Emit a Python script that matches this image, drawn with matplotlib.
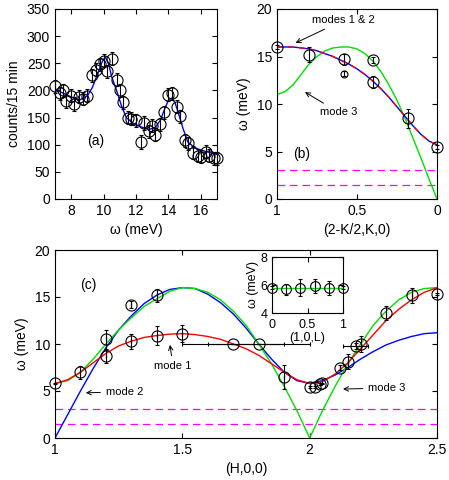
import matplotlib
matplotlib.use("Agg")
import matplotlib.pyplot as plt

plt.rcParams["font.family"] = ["Liberation Sans", "DejaVu Sans"]
plt.rcParams["font.size"] = 10

# panel (a): energy scan
a_w = [7.0, 7.3, 7.5, 7.7, 8.0, 8.2, 8.5, 8.7, 9.0, 9.3, 9.5, 9.8, 10.0, 10.2, 10.5,
       10.8, 11.0, 11.2, 11.5, 11.7, 12.0, 12.3, 12.5, 12.8, 13.0, 13.2, 13.5, 13.7,
       14.0, 14.2, 14.5, 14.7, 15.0, 15.2, 15.5, 15.8, 16.0, 16.3, 16.5, 16.8, 17.0]
a_counts = [208, 195, 200, 180, 190, 175, 188, 185, 190, 228, 238, 248, 255, 235, 258,
            220, 200, 178, 150, 148, 145, 105, 140, 125, 135, 118, 138, 160,
            192, 195, 170, 152, 108, 103, 85, 80, 78, 87, 80, 75, 75]
a_err = [12] * len(a_w)
a_fit_w = [7.0, 7.5, 8.0, 8.5, 9.0, 9.3, 9.6, 9.9, 10.1, 10.3, 10.5, 10.8, 11.1, 11.4,
           11.8, 12.3, 12.8, 13.2, 13.5, 13.8, 14.0, 14.2, 14.4, 14.6, 14.9, 15.2,
           15.6, 16.0, 16.5, 17.0]
a_fit = [202, 195, 188, 182, 190, 205, 228, 252, 262, 250, 225, 200, 172, 150,
         140, 133, 128, 132, 145, 168, 182, 186, 178, 160, 130, 105, 95, 90, 86, 82]

# panel (b): (2-K/2,K,0)
b_k = [1.0, 0.8, 0.58, 0.58, 0.4, 0.4, 0.18, 0.0]
b_w = [16.0, 15.2, 14.7, 13.2, 14.6, 12.3, 8.5, 5.5]
b_err = [0.2, 0.8, 0.6, 0.3, 0.3, 0.6, 1.0, 0.2]
b_ms = [8, 8, 8, 5, 8, 8, 8, 8]
b_k_line = [1.0, 0.95, 0.9, 0.85, 0.8, 0.75, 0.7, 0.65, 0.6, 0.55, 0.5, 0.45, 0.4,
            0.35, 0.3, 0.25, 0.2, 0.15, 0.1, 0.05, 0.0]
b_mode12 = [16.0, 16.0, 16.0, 15.9, 15.8, 15.6, 15.3, 15.0, 14.6, 14.2, 13.7, 13.1,
            12.4, 11.6, 10.7, 9.7, 8.7, 7.7, 6.8, 6.1, 5.7]
b_mode3 = [11.0, 11.3, 12.0, 13.1, 14.2, 15.0, 15.6, 15.9, 16.0, 16.0, 15.8, 15.3,
           14.5, 13.4, 12.0, 10.4, 8.5, 6.4, 4.3, 2.1, 0.0]
spin_gaps = [3.1, 1.5]

# panel (c): (H,0,0)
c_h = [1.0, 1.1, 1.2, 1.2, 1.3, 1.3, 1.4, 1.4, 1.5, 1.7, 1.8, 1.9, 2.0, 2.02, 2.04,
       2.05, 2.12, 2.15, 2.2, 2.18, 2.3, 2.4, 2.5]
c_w = [5.8, 7.0, 10.5, 8.7, 14.2, 10.3, 15.2, 10.9, 11.1, 10.0, 10.0, 6.5, 5.4, 5.4,
       5.7, 5.8, 7.5, 8.1, 10.0, 9.8, 13.3, 15.2, 15.3]
c_yerr = [0.1, 0.7, 1.0, 0.7, 0.4, 0.8, 0.7, 1.0, 0.9, 0, 0, 1.3, 0.1, 0.1, 0.1,
          0.1, 0.3, 0.8, 0.8, 0.3, 0.7, 0.8, 0.1]
c_xerr = [0, 0, 0, 0, 0, 0, 0, 0, 0, 0.2, 0.2, 0, 0, 0, 0, 0, 0, 0, 0, 0.05, 0, 0, 0]
c_h_line = [1.0, 1.05, 1.1, 1.15, 1.2, 1.25, 1.3, 1.35, 1.4, 1.45, 1.5, 1.55, 1.6,
            1.65, 1.7, 1.75, 1.8, 1.85, 1.9, 1.95, 2.0, 2.05, 2.1, 2.15, 2.2, 2.25,
            2.3, 2.35, 2.4, 2.45, 2.5]
c_mode1 = [5.8, 6.2, 7.0, 8.0, 9.0, 9.8, 10.3, 10.7, 10.9, 11.05, 11.1, 11.0, 10.8,
           10.5, 10.0, 9.5, 8.8, 7.9, 7.0, 6.2, 5.8, 6.0, 6.8, 8.0, 9.5, 11.0,
           12.5, 13.7, 14.7, 15.5, 16.0]
c_mode2 = [0.0, 2.5, 5.0, 7.4, 9.6, 11.5, 13.0, 14.3, 15.2, 15.8, 16.0, 15.9, 15.3,
           14.4, 13.2, 11.7, 10.0, 8.4, 7.0, 6.1, 5.8, 6.1, 6.7, 7.5, 8.4, 9.2,
           9.9, 10.4, 10.8, 11.1, 11.2]
c_mode3 = [5.8, 6.1, 7.0, 8.4, 10.0, 11.5, 12.8, 14.0, 14.8, 15.6, 16.0, 15.9, 15.5,
           14.7, 13.5, 12.0, 10.0, 7.9, 5.5, 2.9, 0.0, 2.9, 5.5, 7.9, 10.0, 12.0,
           13.5, 14.7, 15.5, 15.9, 16.0]

# inset: (1,0,L)
i_l = [0.0, 0.2, 0.4, 0.6, 0.8, 1.0]
i_w = [5.8, 5.7, 5.8, 5.9, 5.8, 5.8]
i_err = [0.1, 0.4, 0.6, 0.5, 0.5, 0.1]
i_line_l = [0.0, 1.0]
i_line_w = [5.8, 5.8]

W, H = 449, 480
fig = plt.figure(figsize=(W / 100, H / 100), dpi=100)


def box(l, t, r, b):
    return [l / W, 1 - b / H, (r - l) / W, (b - t) / H]


pt = dict(fmt="o", mfc="none", mec="black", ecolor="black", color="black",
          ms=8, mew=0.8, elinewidth=0.8, capsize=1.5, capthick=0.8, clip_on=False)

# (a)
ax1 = fig.add_axes(box(55, 9, 217, 199))
ax1.plot(a_fit_w, a_fit, color="blue", lw=1)
ax1.errorbar(a_w, a_counts, yerr=a_err, **pt)
ax1.set_xlim(7, 17)
ax1.set_ylim(0, 350)
ax1.set_xticks([8, 10, 12, 14, 16])
ax1.set_yticks(range(0, 351, 50))
ax1.set_xlabel("ω (meV)")
ax1.set_ylabel("counts/15 min")
ax1.text(9.0, 100, "(a)", fontsize=10)

# (b)
ax2 = fig.add_axes(box(277, 9, 437, 199))
for g in spin_gaps:
    ax2.axhline(g, color="magenta", ls=(0, (6, 4)), lw=0.9)
ax2.plot(b_k_line, b_mode3, color="#00dd00", lw=1)
ax2.plot(b_k_line, b_mode12, color="blue", lw=1)
ax2.plot(b_k_line, b_mode12, color="red", lw=1, ls=(0, (4, 4)))
for k, w, e, m in zip(b_k, b_w, b_err, b_ms):
    ax2.errorbar(k, w, yerr=e, **{**pt, "ms": m})
ax2.set_xlim(1, 0)
ax2.set_ylim(0, 20)
ax2.set_xticks([1, 0.5, 0])
ax2.set_xticklabels(["1", "0.5", "0"])
ax2.set_yticks([0, 5, 10, 15, 20])
ax2.set_xlabel("(2-K/2,K,0)")
ax2.set_ylabel("ω (meV)")
ax2.text(0.9, 4.3, "(b)", fontsize=10)
ax2.annotate("modes 1 & 2", xy=(0.9, 16.3), xytext=(0.78, 18.5), fontsize=8,
             arrowprops=dict(arrowstyle="->", lw=0.7))
ax2.annotate("mode 3", xy=(0.84, 11.4), xytext=(0.73, 8.8), fontsize=8,
             arrowprops=dict(arrowstyle="->", lw=0.7))

# (c)
ax3 = fig.add_axes(box(55, 250, 437, 438))
for g in spin_gaps:
    ax3.axhline(g, color="magenta", ls=(0, (6, 4)), lw=0.9)
ax3.plot(c_h_line, c_mode2, color="blue", lw=1)
ax3.plot(c_h_line, c_mode3, color="#00dd00", lw=1)
ax3.plot(c_h_line, c_mode1, color="red", lw=1)
ax3.errorbar(c_h, c_w, yerr=c_yerr, xerr=c_xerr, **pt)
ax3.set_xlim(1, 2.5)
ax3.set_ylim(0, 20)
ax3.set_xticks([1, 1.5, 2, 2.5])
ax3.set_xticklabels(["1", "1.5", "2", "2.5"])
ax3.set_yticks([0, 5, 10, 15, 20])
ax3.set_xlabel("(H,0,0)")
ax3.set_ylabel("ω (meV)")
ax3.text(1.1, 15.8, "(c)", fontsize=10)
ax3.annotate("mode 1", xy=(1.45, 10.2), xytext=(1.39, 7.3), fontsize=8,
             arrowprops=dict(arrowstyle="->", lw=0.7))
ax3.annotate("mode 2", xy=(1.11, 4.8), xytext=(1.2, 4.6), fontsize=8,
             arrowprops=dict(arrowstyle="->", lw=0.7))
ax3.annotate("mode 3", xy=(2.12, 5.2), xytext=(2.23, 5.0), fontsize=8,
             arrowprops=dict(arrowstyle="->", lw=0.7))

# inset
ax4 = fig.add_axes(box(272, 257, 343, 313))
ax4.plot(i_line_l, i_line_w, color="#00dd00", lw=1)
ax4.errorbar(i_l, i_w, yerr=i_err, **{**pt, "ms": 7})
ax4.set_xlim(0, 1)
ax4.set_ylim(4, 8)
ax4.set_xticks([0, 0.5, 1])
ax4.set_xticklabels(["0", "0.5", "1"])
ax4.set_yticks([4, 6, 8])
ax4.tick_params(axis="x", labelsize=9, pad=4)
ax4.tick_params(axis="y", labelsize=9, pad=3)
ax4.set_xlabel("(1,0,L)", fontsize=9, labelpad=1)
ax4.set_ylabel("ω (meV)", fontsize=9, labelpad=1)

for ax in (ax1, ax2, ax3):
    ax.tick_params(direction="in", top=True, right=True, labelsize=10)
ax4.tick_params(direction="in", top=True, right=True)

fig.savefig("out.png", dpi=100)
